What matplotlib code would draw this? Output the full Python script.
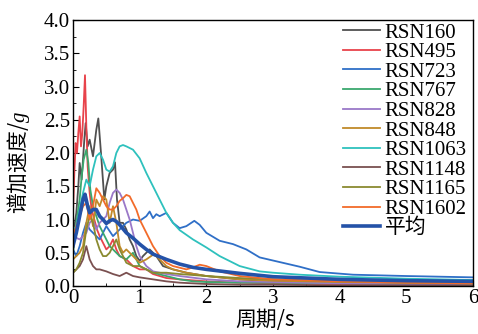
import matplotlib

matplotlib.use("Agg")

import matplotlib.pyplot as plt
from matplotlib.ticker import MultipleLocator

# spectral acceleration curves (period in s, Sa in g)
rsn160_t = [0, 0.05, 0.08, 0.1, 0.13, 0.17, 0.19, 0.22, 0.25, 0.3, 0.35, 0.38, 0.42, 0.47, 0.5,
            0.55, 0.6, 0.63, 0.66, 0.7, 0.75, 0.8, 0.85, 0.9, 0.95, 1.0, 1.05, 1.15, 1.25, 1.35,
            1.5, 1.7, 2.0, 2.5, 3.0, 4.0, 5.0, 6.0]
rsn160_sa = [0.75, 1.1, 1.5, 1.85, 1.6, 2.2, 2.45, 2.1, 2.2, 1.95, 2.35, 2.52, 2.0, 1.3, 1.5,
             1.7, 1.75, 1.86, 1.3, 0.95, 0.95, 0.85, 0.7, 0.6, 0.45, 0.38, 0.45, 0.55, 0.45, 0.3,
             0.25, 0.2, 0.15, 0.1, 0.07, 0.05, 0.04, 0.03]

rsn495_t = [0, 0.02, 0.04, 0.06, 0.08, 0.1, 0.12, 0.14, 0.16, 0.18, 0.2, 0.22, 0.25, 0.28, 0.32,
            0.36, 0.4, 0.45, 0.5, 0.55, 0.6, 0.65, 0.7, 0.8, 0.9, 1.0, 1.1, 1.2, 1.4, 1.6, 2.0,
            2.5, 3.0, 4.0, 5.0, 6.0]
rsn495_sa = [1.1, 1.7, 2.15, 2.0, 2.3, 2.55, 2.1, 2.3, 2.7, 3.17, 2.4, 1.8, 1.4, 1.15, 1.0,
             0.85, 0.75, 0.65, 0.55, 0.6, 0.7, 0.55, 0.45, 0.4, 0.3, 0.25, 0.25, 0.18, 0.12, 0.1,
             0.07, 0.05, 0.04, 0.03, 0.02, 0.02]

rsn723_t = [0, 0.05, 0.1, 0.15, 0.2, 0.25, 0.3, 0.4, 0.5, 0.6, 0.7, 0.8, 0.9, 1.0, 1.1, 1.15,
            1.2, 1.25, 1.3, 1.4, 1.5, 1.6, 1.7, 1.82, 1.9, 2.0, 2.2, 2.4, 2.6, 2.8, 3.1, 3.4,
            3.7, 4.2, 5.0, 6.0]
rsn723_sa = [0.55, 0.45, 0.6, 0.8, 0.95, 0.85, 0.8, 0.7, 0.9, 0.75, 0.85, 0.95, 1.0, 0.98,
             1.05, 1.12, 1.02, 1.08, 1.05, 1.1, 0.95, 0.87, 0.9, 0.98, 0.92, 0.8, 0.68, 0.63,
             0.55, 0.43, 0.36, 0.29, 0.21, 0.17, 0.15, 0.13]

rsn767_t = [0, 0.05, 0.1, 0.13, 0.16, 0.2, 0.23, 0.26, 0.3, 0.35, 0.4, 0.45, 0.5, 0.55, 0.6,
            0.7, 0.8, 0.85, 0.9, 1.0, 1.1, 1.2, 1.4, 1.6, 1.8, 2.0, 2.5, 3.0, 4.0, 5.0, 6.0]
rsn767_sa = [0.5, 0.95, 1.3, 1.65, 1.9, 2.05, 1.85, 1.45, 1.2, 1.05, 0.9, 0.8, 0.7, 0.6, 0.55,
             0.45, 0.4, 0.45, 0.5, 0.3, 0.25, 0.2, 0.15, 0.1, 0.07, 0.06, 0.05, 0.05, 0.04,
             0.03, 0.03]

rsn828_t = [0, 0.1, 0.2, 0.25, 0.3, 0.35, 0.4, 0.45, 0.5, 0.55, 0.6, 0.65, 0.7, 0.75, 0.8,
            0.85, 0.9, 0.95, 1.0, 1.1, 1.2, 1.4, 1.6, 2.0, 2.5, 3.0, 4.0, 5.0, 6.0]
rsn828_sa = [0.75, 0.7, 0.8, 0.95, 1.0, 0.85, 0.95, 1.0, 1.05, 1.25, 1.4, 1.45, 1.4, 1.3, 1.15,
             1.0, 0.8, 0.6, 0.45, 0.3, 0.22, 0.18, 0.15, 0.1, 0.07, 0.06, 0.04, 0.03, 0.03]

rsn848_t = [0, 0.05, 0.1, 0.15, 0.2, 0.25, 0.3, 0.35, 0.4, 0.45, 0.5, 0.55, 0.6, 0.65, 0.7,
            0.75, 0.8, 0.9, 1.0, 1.1, 1.2, 1.25, 1.3, 1.4, 1.5, 1.7, 2.0, 2.5, 3.0, 4.0, 5.0, 6.0]
rsn848_sa = [0.4, 0.45, 0.5, 0.6, 0.95, 1.2, 0.9, 1.3, 1.2, 1.35, 1.3, 0.95, 1.2, 0.95, 0.6,
             0.5, 0.55, 0.45, 0.35, 0.4, 0.47, 0.45, 0.4, 0.3, 0.25, 0.2, 0.15, 0.1, 0.08, 0.06,
             0.05, 0.04]

rsn1063_t = [0, 0.05, 0.1, 0.15, 0.2, 0.25, 0.3, 0.35, 0.4, 0.45, 0.5, 0.55, 0.6, 0.65, 0.7,
             0.75, 0.8, 0.9, 1.0, 1.1, 1.2, 1.3, 1.4, 1.5, 1.6, 1.8, 2.0, 2.2, 2.5, 2.8, 3.0,
             3.4, 4.0, 5.0, 6.0]
rsn1063_sa = [0.85, 0.9, 1.15, 1.4, 1.6, 1.5, 1.75, 1.95, 2.0, 1.9, 1.75, 1.72, 1.8, 2.0, 2.1,
              2.12, 2.1, 2.05, 1.92, 1.7, 1.5, 1.3, 1.1, 0.95, 0.84, 0.7, 0.58, 0.45, 0.3, 0.22,
              0.2, 0.17, 0.14, 0.11, 0.09]

rsn1148_t = [0, 0.05, 0.1, 0.15, 0.2, 0.25, 0.3, 0.35, 0.4, 0.5, 0.6, 0.7, 0.8, 0.9, 1.0, 1.2,
             1.4, 1.6, 2.0, 2.5, 3.0, 4.0, 5.0, 6.0]
rsn1148_sa = [0.2, 0.25, 0.3, 0.4, 0.6, 0.4, 0.3, 0.25, 0.25, 0.22, 0.18, 0.15, 0.2, 0.15, 0.13,
              0.1, 0.07, 0.05, 0.03, 0.02, 0.02, 0.01, 0.01, 0.01]

rsn1165_t = [0, 0.05, 0.1, 0.15, 0.2, 0.25, 0.3, 0.35, 0.4, 0.45, 0.5, 0.55, 0.6, 0.65, 0.7,
             0.8, 0.9, 1.0, 1.1, 1.2, 1.4, 1.6, 2.0, 2.5, 3.0, 4.0, 5.0, 6.0]
rsn1165_sa = [0.2, 0.25, 0.35, 0.5, 0.85, 1.05, 0.95, 0.7, 0.55, 0.45, 0.45, 0.5, 0.6, 0.7, 0.55,
              0.35, 0.3, 0.3, 0.25, 0.2, 0.2, 0.18, 0.15, 0.12, 0.1, 0.07, 0.05, 0.04]

rsn1602_t = [0, 0.05, 0.1, 0.15, 0.2, 0.25, 0.3, 0.35, 0.4, 0.45, 0.5, 0.55, 0.6, 0.65, 0.7,
             0.75, 0.8, 0.85, 0.9, 0.95, 1.0, 1.1, 1.2, 1.3, 1.4, 1.5, 1.7, 1.8, 1.9, 2.0, 2.2,
             2.5, 3.0, 4.0, 5.0, 6.0]
rsn1602_sa = [0.75, 0.9, 1.05, 1.2, 1.25, 1.0, 1.2, 1.47, 1.4, 1.3, 1.2, 1.15, 1.15, 1.2, 1.28,
              1.32, 1.37, 1.35, 1.25, 1.15, 1.0, 0.8, 0.6, 0.45, 0.35, 0.3, 0.25, 0.28, 0.32,
              0.3, 0.22, 0.15, 0.1, 0.07, 0.05, 0.04]

mean_t = [0, 0.05, 0.1, 0.15, 0.18, 0.22, 0.25, 0.3, 0.35, 0.4, 0.45, 0.5, 0.55, 0.6, 0.65,
          0.7, 0.8, 0.9, 1.0, 1.1, 1.2, 1.4, 1.6, 1.8, 2.0, 2.5, 3.0, 3.5, 4.0, 5.0, 6.0]
mean_sa = [0.6, 0.8, 1.05, 1.3, 1.38, 1.2, 1.1, 1.15, 1.15, 1.05, 1.0, 0.94, 0.98, 1.0, 0.97,
           0.92, 0.8, 0.72, 0.63, 0.55, 0.48, 0.4, 0.33, 0.28, 0.25, 0.19, 0.14, 0.12, 0.1,
           0.08, 0.07]

labels = ["RSN160", "RSN495", "RSN723", "RSN767", "RSN828", "RSN848",
          "RSN1063", "RSN1148", "RSN1165", "RSN1602"]
colors = ["#505050", "#e8434b", "#2f6fc7", "#3aa86e", "#9a78c8", "#c08a2a",
          "#2ec1bd", "#7a5050", "#8a8a30", "#f26b2a"]

plt.rcParams["font.family"] = ["Liberation Serif", "Noto Sans CJK SC"]
plt.rcParams["mathtext.fontset"] = "custom"
plt.rcParams["mathtext.rm"] = "Liberation Serif"
plt.rcParams["mathtext.it"] = "Liberation Serif:italic"

fig = plt.figure(figsize=(4.78, 3.34), dpi=100)
ax = fig.add_axes([0.1527, 0.1437, 0.8368, 0.7964])

series = [
    (rsn160_t, rsn160_sa), (rsn495_t, rsn495_sa), (rsn723_t, rsn723_sa),
    (rsn767_t, rsn767_sa), (rsn828_t, rsn828_sa), (rsn848_t, rsn848_sa),
    (rsn1063_t, rsn1063_sa), (rsn1148_t, rsn1148_sa), (rsn1165_t, rsn1165_sa),
    (rsn1602_t, rsn1602_sa),
]
for (t, sa), label, color in zip(series, labels, colors):
    ax.plot(t, sa, color=color, lw=1.3, label=label)
ax.plot(mean_t, mean_sa, color="#2452a8", lw=2.6, label="平均")

ax.set_xlim(0, 6)
ax.set_ylim(0, 4)
ax.xaxis.set_major_locator(MultipleLocator(1))
ax.xaxis.set_minor_locator(MultipleLocator(0.5))
ax.yaxis.set_major_locator(MultipleLocator(0.5))
ax.yaxis.set_minor_locator(MultipleLocator(0.25))
ax.set_yticklabels([f"{v:.1f}" for v in ax.get_yticks()])
ax.tick_params(which="both", direction="in", labelsize=15, pad=2)
ax.tick_params(axis="x", pad=2)
ax.tick_params(which="major", length=4)
ax.tick_params(which="minor", length=2.5)
for s in ax.spines.values():
    s.set_linewidth(1.0)

ax.set_xlabel("周期/s", fontsize=15, family=["Noto Sans CJK SC"])
ax.xaxis.set_label_coords(0.48, -0.085)
ax.set_ylabel("谱加速度/$g$", fontsize=15, family=["Noto Sans CJK SC"])
ax.yaxis.set_label_coords(-0.103, 0.466)

ax.legend(loc="upper right", bbox_to_anchor=(1.005, 1.02), frameon=False, fontsize=15,
          handlelength=1.8, handletextpad=0.2, labelspacing=0.0, borderaxespad=0.0)

fig.savefig("out.png", dpi=100)
